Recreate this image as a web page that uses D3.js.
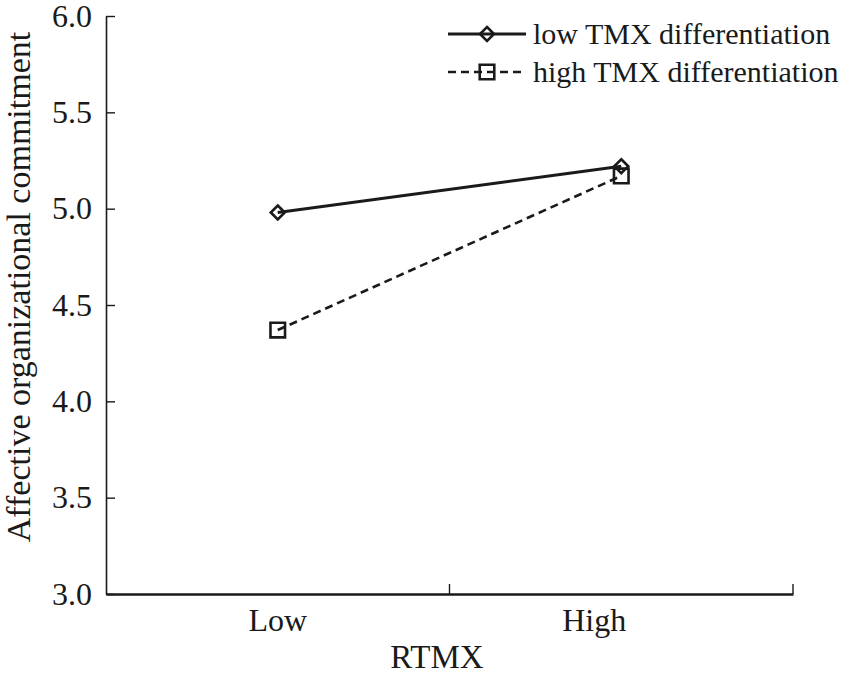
<!DOCTYPE html>
<html>
<head>
<meta charset="utf-8">
<script src="https://cdn.jsdelivr.net/npm/d3@7"></script>
<style>
  body { margin: 0; background: #fff; }
  svg { display: block; }
  text { font-family: "Liberation Serif", "Times New Roman", serif; fill: #1a1a1a; }
</style>
</head>
<body>
<div id="chart"></div>
<script>
// 카테고리 / 시리즈 데이터
const categories = ['Low', 'High'];
const seriesNames = ['low TMX differentiation', 'high TMX differentiation'];
const lowTmxValues = [4.98, 5.22];
const highTmxValues = [4.37, 5.17];
const yTicks = [3.0, 3.5, 4.0, 4.5, 5.0, 5.5, 6.0];
const xTitle = 'RTMX';
const yTitle = 'Affective organizational commitment';

const width = 854, height = 675;
const margin = { top: 16, right: 61, bottom: 81, left: 106 };
const ink = '#1a1a1a';
const serif = '"Liberation Serif", "Times New Roman", serif';

const svg = d3.select('#chart').append('svg')
    .attr('width', width)
    .attr('height', height);

const x = d3.scaleBand()
    .domain(categories)
    .range([margin.left, width - margin.right])
    .padding(0);

const y = d3.scaleLinear()
    .domain([3, 6])
    .range([height - margin.bottom, margin.top]);

// y축 (눈금은 안쪽으로)
const yAxis = svg.append('g')
    .attr('transform', `translate(${margin.left},0)`)
    .call(d3.axisLeft(y)
        .tickValues(yTicks)
        .tickSizeInner(-9)
        .tickSizeOuter(0)
        .tickPadding(14)
        .tickFormat(d3.format('.1f')));
yAxis.select('.domain').attr('stroke', ink).attr('stroke-width', 1.6);
yAxis.selectAll('.tick line').attr('stroke', ink).attr('stroke-width', 1.4);
yAxis.selectAll('.tick text')
    .attr('font-size', 32)
    .attr('fill', ink)
    .attr('font-family', serif);

// x축 - 라벨은 밴드 중앙, 눈금은 밴드 경계
const xAxis = svg.append('g')
    .attr('transform', `translate(0,${y(3)})`)
    .call(d3.axisBottom(x).tickSize(0).tickPadding(14));
xAxis.select('.domain').attr('stroke', ink).attr('stroke-width', 2.6);
xAxis.selectAll('.tick text')
    .attr('font-size', 32)
    .attr('fill', ink)
    .attr('font-family', serif)
    .attr('dx', d => d === 'High' ? -27 : 0);

svg.append('g').selectAll('line')
    .data(categories)
    .join('line')
    .attr('x1', d => x(d) + x.bandwidth())
    .attr('x2', d => x(d) + x.bandwidth())
    .attr('y1', y(3))
    .attr('y2', y(3) - 10)
    .attr('stroke', ink)
    .attr('stroke-width', 1.4);

// 축 제목
svg.append('text')
    .attr('x', 437)
    .attr('y', 668)
    .attr('text-anchor', 'middle')
    .attr('font-size', 33)
    .text(xTitle);

svg.append('text')
    .attr('transform', 'translate(30,287) rotate(-90)')
    .attr('text-anchor', 'middle')
    .attr('font-size', 34)
    .text(yTitle);

// 마커 모양
const diamond = d3.symbol().type(d3.symbolDiamond2).size(125);
const square = d3.symbol().type(d3.symbolSquare2).size(270);

const line = d3.line()
    .x((d, i) => x(categories[i]) + x.bandwidth() / 2)
    .y(d => y(d));

// high TMX (점선) 먼저 그림
svg.append('path')
    .datum(highTmxValues)
    .attr('d', line)
    .attr('fill', 'none')
    .attr('stroke', ink)
    .attr('stroke-width', 2.6)
    .attr('stroke-dasharray', '8,5');

svg.append('g').selectAll('path')
    .data(highTmxValues)
    .join('path')
    .attr('transform', (d, i) => `translate(${x(categories[i]) + x.bandwidth() / 2},${y(d)})`)
    .attr('d', square)
    .attr('fill', 'none')
    .attr('stroke', ink)
    .attr('stroke-width', 2.6);

// low TMX (실선)
svg.append('path')
    .datum(lowTmxValues)
    .attr('d', line)
    .attr('fill', 'none')
    .attr('stroke', ink)
    .attr('stroke-width', 3);

svg.append('g').selectAll('path')
    .data(lowTmxValues)
    .join('path')
    .attr('transform', (d, i) => `translate(${x(categories[i]) + x.bandwidth() / 2},${y(d)})`)
    .attr('d', diamond)
    .attr('fill', 'none')
    .attr('stroke', ink)
    .attr('stroke-width', 2.6);

// 범례
const legend = svg.append('g').attr('transform', 'translate(448,0)');
const legendRows = [
    { name: seriesNames[0], dash: null, width: 3, shape: diamond, y: 34 },
    { name: seriesNames[1], dash: '8,5', width: 2.6, shape: square, y: 72 }
];

legendRows.forEach(r => {
    legend.append('line')
        .attr('x1', 0).attr('x2', 78)
        .attr('y1', r.y).attr('y2', r.y)
        .attr('stroke', ink)
        .attr('stroke-width', r.width)
        .attr('stroke-dasharray', r.dash);
    legend.append('path')
        .attr('transform', `translate(39,${r.y})`)
        .attr('d', r.shape)
        .attr('fill', 'none')
        .attr('stroke', ink)
        .attr('stroke-width', 2.6);
    legend.append('text')
        .attr('x', 85)
        .attr('y', r.y + 10)
        .attr('font-size', 30)
        .text(r.name);
});
</script>
</body>
</html>
